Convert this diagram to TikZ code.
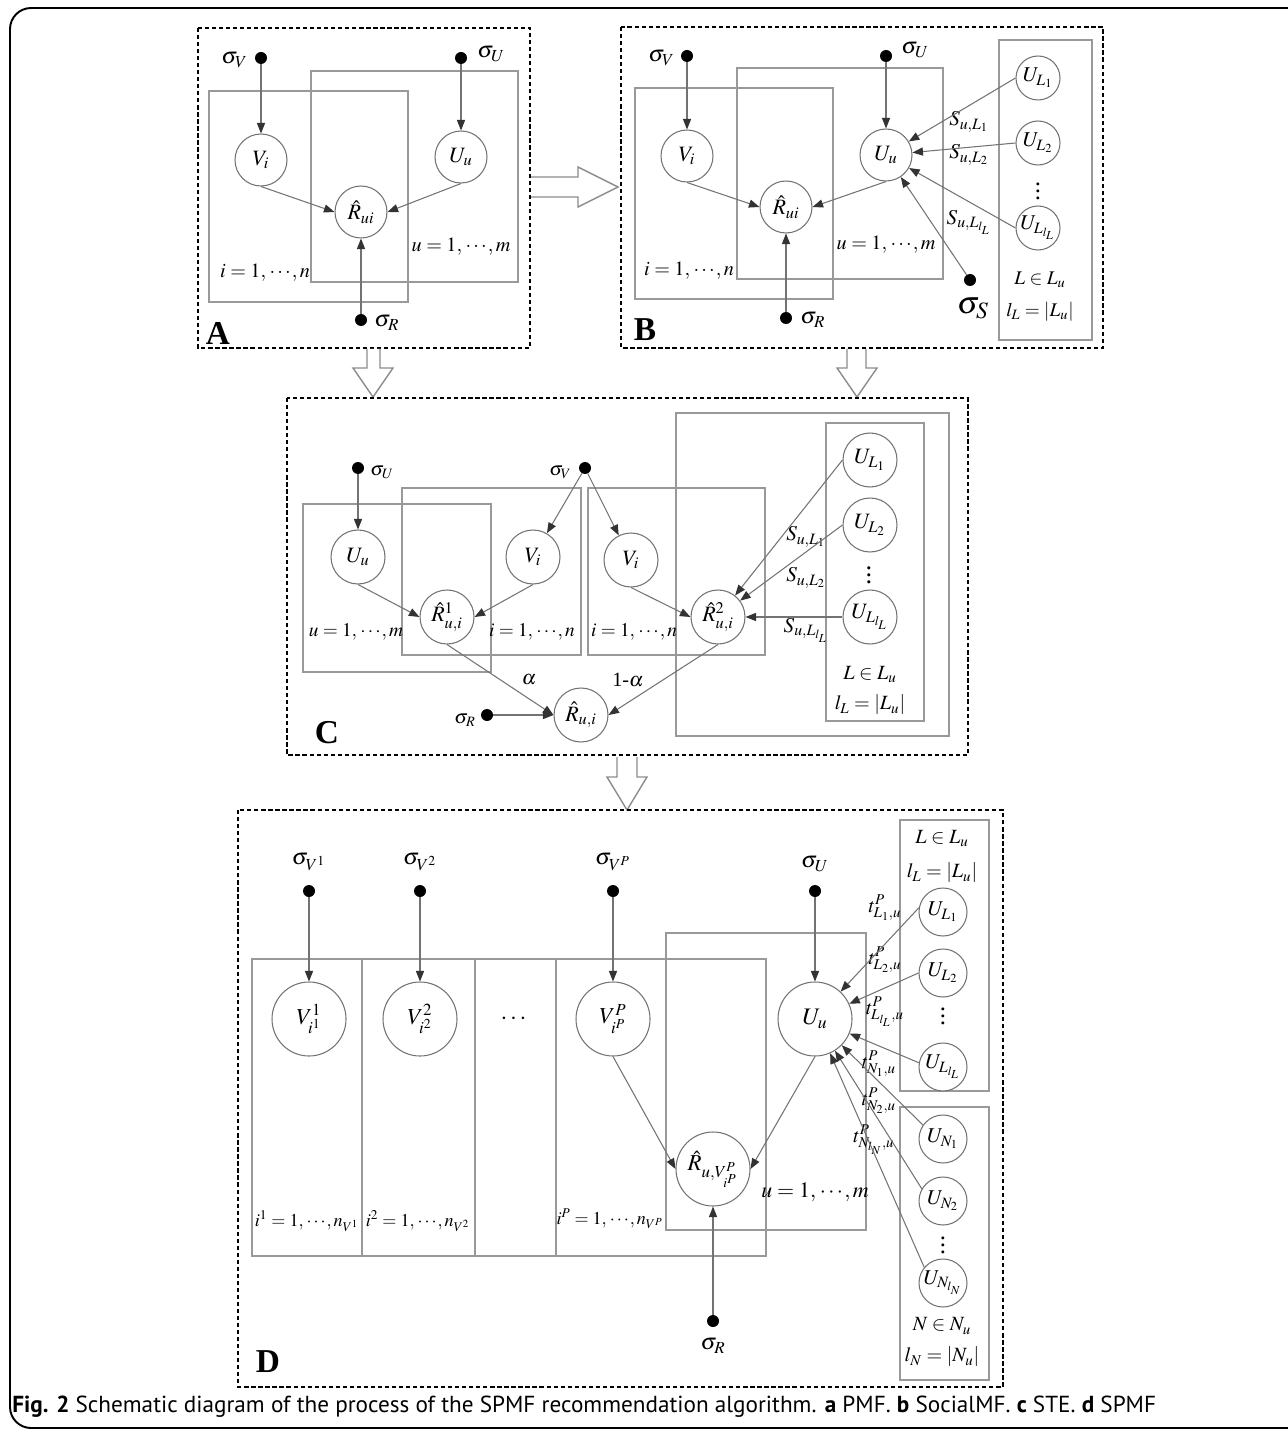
\documentclass[tikz,border=0pt]{standalone}
\usepackage{amsmath}
\usepackage{mathptmx}
\usepackage[no-math]{fontspec}
\setmainfont{Liberation Serif}
\newfontfamily\capfont{PT Sans}
\usetikzlibrary{arrows.meta}
\newcommand{\fsz}[1]{\fontsize{#1}{#1}\selectfont}
\newcommand{\cds}{\mkern1mu\mathord{\cdot}\mkern2mu\mathord{\cdot}\mkern2mu\mathord{\cdot}\mkern1mu}
\tikzset{
  dbox/.style={draw=black, line width=0.9pt, dash pattern=on 2.4pt off 1.6pt},
  plate/.style={draw=black!40, line width=0.8pt},
  var/.style={circle, draw=black!55, line width=0.6pt, fill=white, inner sep=0pt, minimum size=#1*0.02cm},
  dotn/.style={circle, fill=black, inner sep=0pt, minimum size=0.24cm},
  arr/.style={draw=black!55, line width=0.6pt, -{Triangle[length=6pt,width=4.6pt,color=black!80]}},
  txt/.style={inner sep=0pt},
  hollow/.style={draw=black!45, line width=0.8pt, fill=white},
  panel/.style={inner sep=0pt, font=\fsz{19}\bfseries},
}
\begin{document}
\begin{tikzpicture}[x=0.02cm,y=-0.02cm]
\useasboundingbox (0,0) rectangle (1287,1432);
% outer frame
\draw[line width=1.1pt, rounded corners=12] (1290,8) -- (10,8) -- (10,1428) -- (1290,1428);

% ================= Panel A =================
\draw[dbox] (198,28) rectangle (530,348);
\draw[plate] (209,91) rectangle (408,302);
\draw[plate] (311,71) rectangle (518,282);
\node[var=52] (aV) at (261,160) {\fsz{12.5}$V_i$};
\node[var=52] (aU) at (461,157) {\fsz{12.5}$U_u$};
\node[var=52] (aR) at (361,212) {\fsz{12.5}$\hat R_{ui}$};
\node[dotn] (asV) at (261,58) {};
\node[dotn] (asU) at (461,58) {};
\node[dotn] (asR) at (361,320) {};
\node[txt, anchor=east] (asVl) at (248,60) {\fsz{13}$\sigma_V$};
\node[txt, anchor=west] (asUl) at (477,54) {\fsz{13}$\sigma_U$};
\node[txt, anchor=west] (asRl) at (374,323) {\fsz{13}$\sigma_R$};
\node[txt] (ai) at (265,273) {\fsz{11.5}$i=1,\cds,n$};
\node[txt] (au) at (461,247) {\fsz{11.5}$u=1,\cds,m$};
\node[panel] (aA) at (218,333) {A};
\draw[arr] (asV) -- (aV);
\draw[arr] (asU) -- (aU);
\draw[arr] (asR) -- (aR);
\draw[arr] (aV.south) -- (aR.west);
\draw[arr] (aU.south) -- (aR.east);

% hollow arrows
\draw[hollow] (531,177) -- (578,177) -- (578,167) -- (618,187) -- (578,207) -- (578,197) -- (531,197);
\draw[hollow] (367,349) -- (367,368) -- (353,368) -- (373,397) -- (393,368) -- (380,368) -- (380,349);
\draw[hollow] (847,349) -- (847,368) -- (837,368) -- (857,397) -- (877,368) -- (866,368) -- (866,349);
\draw[hollow] (617,757) -- (617,777) -- (607,777) -- (627,810) -- (647,777) -- (637,777) -- (637,757);

% ================= Panel B =================
\draw[dbox] (621,27) rectangle (1103,348);
\draw[plate] (635,88) rectangle (833,299);
\draw[plate] (737,68) rectangle (943,279);
\draw[plate] (999,40) rectangle (1092,340);
\node[var=52] (bV) at (687,156) {\fsz{12.5}$V_i$};
\node[var=52] (bU) at (886,155) {\fsz{12.5}$U_u$};
\node[var=52] (bR) at (786,207) {\fsz{12.5}$\hat R_{ui}$};
\node[dotn] (bsV) at (687,56) {};
\node[dotn] (bsU) at (886,56) {};
\node[dotn] (bsR) at (786,318) {};
\node[dotn] (bsS) at (970,280) {};
\node[txt, anchor=east] (bsVl) at (675,58) {\fsz{13}$\sigma_V$};
\node[txt, anchor=west] (bsUl) at (901,50) {\fsz{13}$\sigma_U$};
\node[txt, anchor=west] (bsRl) at (800,320) {\fsz{13}$\sigma_R$};
\node[txt] (bsSl) at (973,308) {\fsz{18}$\sigma_S$};
\node[var=44] (bL1) at (1038,78) {\fsz{12}$U_{L_1}$};
\node[var=44] (bL2) at (1038,143) {\fsz{12}$U_{L_2}$};
\node[var=44] (bLl) at (1038,228) {\fsz{12}$U_{L_{l_L}}$};
\node[txt] (bdots) at (1038,186) {\fsz{14}$\vdots$};
\node[txt] (bLin) at (1040,280) {\fsz{11}$L\in L_u$};
\node[txt] (bLsz) at (1040,312) {\fsz{11}$l_L=\lvert L_u\rvert$};
\node[txt] (bS1) at (969,122) {\fsz{12}$S_{u,L_1}$};
\node[txt] (bS2) at (969,155) {\fsz{12}$S_{u,L_2}$};
\node[txt] (bS3) at (969,222) {\fsz{12}$S_{u,L_{l_L}}$};
\node[txt] (bi) at (689,271) {\fsz{11.5}$i=1,\cds,n$};
\node[txt] (bu) at (886,245) {\fsz{11.5}$u=1,\cds,m$};
\node[panel] (bB) at (645,330) {B};
\draw[arr] (bsV) -- (bV);
\draw[arr] (bsU) -- (bU);
\draw[arr] (bsR) -- (bR);
\draw[arr] (bV.south) -- (bR.west);
\draw[arr] (bU.south) -- (bR.east);
\draw[arr] (bL1.west) -- (bU);
\draw[arr] (bL2.west) -- (bU);
\draw[arr] (bLl.west) -- (bU);
\draw[arr] (bsS) -- (bU);

% ================= Panel C =================
\draw[dbox] (287,398) rectangle (968,755);
\draw[plate] (303,504) rectangle (491,672);
\draw[plate] (402,488) rectangle (581,655);
\draw[plate] (588,488) rectangle (765,655);
\draw[plate] (676,413) rectangle (949,736);
\draw[plate] (826,423) rectangle (924,721);
\node[var=54] (cU) at (358,557) {\fsz{12.5}$U_u$};
\node[var=54] (cV1) at (533,557) {\fsz{12.5}$V_i$};
\node[var=54] (cV2) at (631,560) {\fsz{12.5}$V_i$};
\node[var=54] (cR1) at (447,617) {\fsz{12.5}$\hat R^1_{u,i}$};
\node[var=54] (cR2) at (718,617) {\fsz{12.5}$\hat R^2_{u,i}$};
\node[var=54] (cR) at (581,715) {\fsz{12.5}$\hat R_{u,i}$};
\node[dotn] (csU) at (358,468) {};
\node[dotn] (csV) at (585,468) {};
\node[dotn] (csR) at (487,715) {};
\node[txt, anchor=west] (csUl) at (370,472) {\fsz{11}$\sigma_U$};
\node[txt, anchor=east] (csVl) at (572,472) {\fsz{11}$\sigma_V$};
\node[txt, anchor=east] (csRl) at (476,720) {\fsz{11}$\sigma_R$};
\node[var=54] (cL1) at (870,460) {\fsz{12.5}$U_{L_1}$};
\node[var=54] (cL2) at (870,525) {\fsz{12.5}$U_{L_2}$};
\node[var=54] (cLl) at (870,617) {\fsz{12.5}$U_{L_{l_L}}$};
\node[txt] (cdots) at (869,570) {\fsz{15}$\vdots$};
\node[txt] (cLin) at (870,675) {\fsz{11.5}$L\in L_u$};
\node[txt] (cLsz) at (870,705) {\fsz{11.5}$l_L=\lvert L_u\rvert$};
\node[txt] (cS1) at (806,537) {\fsz{12}$S_{u,L_1}$};
\node[txt] (cS2) at (806,578) {\fsz{12}$S_{u,L_2}$};
\node[txt] (cS3) at (806,630) {\fsz{12}$S_{u,L_{l_L}}$};
\node[txt] (cu) at (356,632) {\fsz{11}$u=1,\cds,m$};
\node[txt] (ci1) at (532,632) {\fsz{11}$i=1,\cds,n$};
\node[txt] (ci2) at (634,632) {\fsz{11}$i=1,\cds,n$};
\node[txt] (calpha) at (529,680) {\fsz{11.5}$\alpha$};
\node[txt] (cbeta) at (628,680) {\fsz{11.5}1-$\alpha$};
\node[panel] (cC) at (327,733) {C};
\draw[arr] (csU) -- (cU);
\draw[arr] (csV) -- (cV1);
\draw[arr] (csV) -- (cV2);
\draw[arr] (cU.south) -- (cR1.west);
\draw[arr] (cV1.south) -- (cR1.east);
\draw[arr] (cV2.south) -- (cR2.west);
\draw[arr] (cL1.west) -- (cR2);
\draw[arr] (cL2.west) -- (cR2);
\draw[arr] (cLl.west) -- (cR2.east);
\draw[arr] (cR1.south) -- (cR.west);
\draw[arr] (cR2.south) -- (cR.east);
\draw[arr] (csR) -- (cR.west);

% ================= Panel D =================
\draw[dbox] (238,810) rectangle (1003,1387);
\draw[plate] (252,959) rectangle (362,1256);
\draw[plate] (362,959) rectangle (475,1256);
\draw[plate] (475,959) rectangle (556,1256);
\draw[plate] (556,959) rectangle (766,1256);
\draw[plate] (666,933) rectangle (866,1230);
\draw[plate] (900,820) rectangle (989,1091);
\draw[plate] (900,1107) rectangle (989,1380);
\node[var=74] (dV1) at (309,1019) {\fsz{13}$V^1_{i^1}$};
\node[var=74] (dV2) at (420,1019) {\fsz{13}$V^2_{i^2}$};
\node[var=74] (dVP) at (613,1019) {\fsz{13}$V^P_{i^P}$};
\node[var=74] (dU) at (815,1019) {\fsz{13.5}$U_u$};
\node[var=74] (dR) at (713,1169) {\fsz{13}$\hat R_{u,V^P_{i^P}}$};
\node[txt] (ddots) at (515,1019) {\fsz{14}$\cdots$};
\node[dotn] (dsV1) at (309,891) {};
\node[dotn] (dsV2) at (420,891) {};
\node[dotn] (dsVP) at (613,891) {};
\node[dotn] (dsU) at (815,891) {};
\node[dotn] (dsR) at (713,1321) {};
\node[txt] (dsV1l) at (309,862) {\fsz{13}$\sigma_{V^1}$};
\node[txt] (dsV2l) at (420,862) {\fsz{13}$\sigma_{V^2}$};
\node[txt] (dsVPl) at (613,862) {\fsz{13}$\sigma_{V^P}$};
\node[txt] (dsUl) at (815,864) {\fsz{13}$\sigma_U$};
\node[txt] (dsRl) at (713,1346) {\fsz{13}$\sigma_R$};
\node[var=48] (dL1) at (943,912) {\fsz{12}$U_{L_1}$};
\node[var=48] (dL2) at (943,973) {\fsz{12}$U_{L_2}$};
\node[var=48] (dLl) at (943,1067) {\fsz{12}$U_{L_{l_L}}$};
\node[txt] (dLdots) at (943,1011) {\fsz{14}$\vdots$};
\node[var=48] (dN1) at (943,1139) {\fsz{12}$U_{N_1}$};
\node[var=48] (dN2) at (943,1201) {\fsz{12}$U_{N_2}$};
\node[var=48] (dNl) at (943,1283) {\fsz{12}$U_{N_{l_N}}$};
\node[txt] (dNdots) at (943,1240) {\fsz{14}$\vdots$};
\node[txt] (dLin) at (942,839) {\fsz{11.5}$L\in L_u$};
\node[txt] (dLsz) at (942,873) {\fsz{11.5}$l_L=\lvert L_u\rvert$};
\node[txt] (dNin) at (942,1326) {\fsz{11.5}$N\in N_u$};
\node[txt] (dNsz) at (942,1357) {\fsz{11.5}$l_N=\lvert N_u\rvert$};
\node[txt] (dt1) at (885,908) {\fsz{11.5}$t^P_{L_1,u}$};
\node[txt] (dt2) at (885,960) {\fsz{11.5}$t^P_{L_2,u}$};
\node[txt] (dt3) at (885,1012) {\fsz{11.5}$t^P_{L_{l_L},u}$};
\node[txt] (dt4) at (879,1064) {\fsz{11.5}$t^P_{N_1,u}$};
\node[txt] (dt5) at (879,1101) {\fsz{11.5}$t^P_{N_2,u}$};
\node[txt] (dt6) at (874,1140) {\fsz{11.5}$t^P_{N_{l_N},u}$};
\node[txt] (di1) at (307,1221) {\fsz{10.3}$i^1=1,\cds,n_{V^1}$};
\node[txt] (di2) at (418,1221) {\fsz{10.3}$i^2=1,\cds,n_{V^2}$};
\node[txt] (diP) at (610,1219) {\fsz{10.3}$i^P=1,\cds,n_{V^P}$};
\node[txt] (du) at (815,1192) {\fsz{12.5}$u=1,\cds,m$};
\node[panel] (dD) at (268,1362) {D};
\draw[arr] (dsV1) -- (dV1);
\draw[arr] (dsV2) -- (dV2);
\draw[arr] (dsVP) -- (dVP);
\draw[arr] (dsU) -- (dU);
\draw[arr] (dsR) -- (dR);
\draw[arr] (dVP.south) -- (dR.west);
\draw[arr] (dU.south) -- (dR.east);
\draw[arr] (dL1.170) -- (dU);
\draw[arr] (dL2.west) -- (dU);
\draw[arr] (dLl.170) -- (dU);
\draw[arr] (dN1.145) -- (dU);
\draw[arr] (dN2.150) -- (dU);
\draw[arr] (dNl.140) -- (dU);

% caption
\node[txt, anchor=base west] (cap) at (12,1412) {\capfont\fsz{13.2}\textbf{Fig. 2} Schematic diagram of the process of the SPMF recommendation algorithm. \textbf{a} PMF. \textbf{b} SocialMF. \textbf{c} STE. \textbf{d} SPMF};
\end{tikzpicture}
\end{document}
